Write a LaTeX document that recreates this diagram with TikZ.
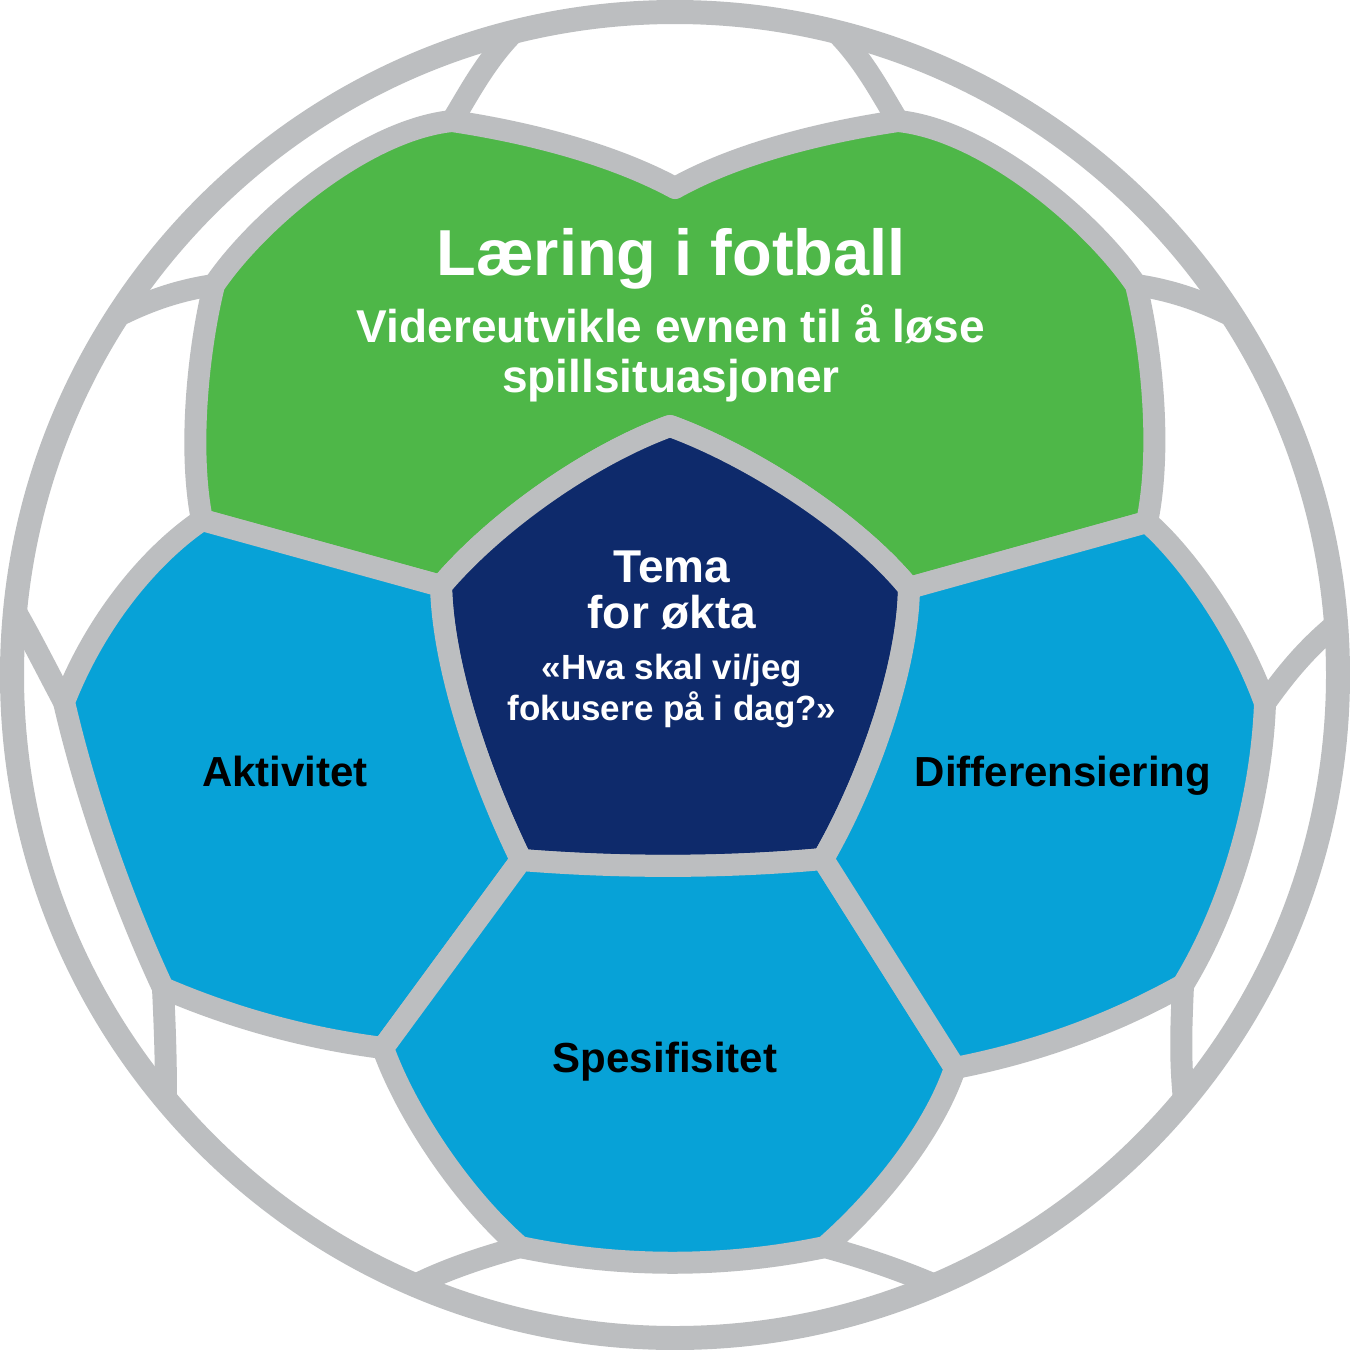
\documentclass[tikz,border=0pt]{standalone}
\usepackage{fontspec}
\setmainfont{Liberation Sans}
\definecolor{seamgray}{RGB}{188,190,192}
\definecolor{ballgreen}{RGB}{78,183,72}
\definecolor{ballblue}{RGB}{7,162,215}
\definecolor{ballnavy}{RGB}{14,42,107}
\tikzset{
  seam/.style={draw=seamgray, line width=22pt, line join=round, line cap=round},
  patch/.style={seam, fill=#1},
  lbl/.style={anchor=base, inner sep=0pt, font=\bfseries\fontsize{#1}{#1}\selectfont},
}
\begin{document}
\begin{tikzpicture}[x=1pt,y=-1pt]
\useasboundingbox (0,0) rectangle (1350,1350);
% junctions
\coordinate (NT) at (670,426);
\coordinate (L) at (441,586);
\coordinate (R) at (909,588);
\coordinate (BL) at (521,860);
\coordinate (BR) at (823,859);
\coordinate (GL) at (202,520);
\coordinate (GR) at (1147,522);
\coordinate (GLT) at (214,285);
\coordinate (GRT) at (1136,285);
\coordinate (TL) at (452,121);
\coordinate (TR) at (898,121);
\coordinate (TC) at (675,188);
\coordinate (AL) at (64,702);
\coordinate (ABL) at (163,988);
\coordinate (ABR) at (383,1048);
\coordinate (SBL) at (520,1247);
\coordinate (SBR) at (825,1247);
\coordinate (DBL) at (955,1068);
\coordinate (DBR) at (1183,985);
\coordinate (DR) at (1265,703);
% ring points
\coordinate (r1) at (512,34);
\coordinate (r2) at (838,34);
\coordinate (r3) at (118,316);
\coordinate (r4) at (1232,316);
\coordinate (r5) at (16,612);
\coordinate (r6) at (1335,625);
\coordinate (r7) at (166,1100);
\coordinate (r8) at (1184,1100);
\coordinate (r9) at (415,1285);
\coordinate (r10) at (935,1285);
% ball background
\fill[white] (675,675) circle[radius=663];
% green patch
\path[patch=ballgreen] (TC) .. controls (734,155) and (817,133) .. (TR)
  .. controls (985,130) and (1092,220) .. (GRT)
  .. controls (1152,350) and (1162,450) .. (GR)
  -- (R) .. controls (855,522) and (750,455) .. (NT)
  .. controls (590,455) and (495,522) .. (L)
  -- (GL) .. controls (188,450) and (198,350) .. (GLT)
  .. controls (258,220) and (365,130) .. (TL)
  .. controls (532,133) and (614,155) .. (TC) -- cycle;
% navy patch
\path[patch=ballnavy] (NT) .. controls (590,455) and (495,522) .. (L)
  .. controls (443,670) and (482,780) .. (BL)
  .. controls (620,868) and (725,868) .. (BR)
  .. controls (866,785) and (908,670) .. (R)
  .. controls (855,522) and (750,455) .. (NT) -- cycle;
% Aktivitet
\path[patch=ballblue] (GL) -- (L) .. controls (443,670) and (482,780) .. (BL)
  -- (ABR) .. controls (306.9,1038.3) and (233.5,1018.3) .. (ABL)
  .. controls (122,900) and (86,797) .. (AL)
  .. controls (100,610) and (160,548) .. (GL) -- cycle;
% Spesifisitet
\path[patch=ballblue] (BL) .. controls (620,868) and (725,868) .. (BR)
  -- (DBL) .. controls (935,1128) and (882,1197) .. (SBR)
  .. controls (725,1268) and (620,1268) .. (SBL)
  .. controls (460,1195) and (405,1110) .. (ABR) -- cycle;
% Differensiering
\path[patch=ballblue] (R) -- (GR) .. controls (1178,548) and (1235,620) .. (DR)
  .. controls (1262,790) and (1235,900) .. (DBR)
  .. controls (1111.4,1025) and (1035.4,1052.5) .. (DBL)
  -- (BR) .. controls (866,785) and (908,670) .. (R) -- cycle;
% white-patch seams
\draw[seam] (TL) .. controls (468,95) and (485,62) .. (r1);
\draw[seam] (TR) .. controls (882,95) and (865,62) .. (r2);
\draw[seam] (GLT) .. controls (180,290) and (150,300) .. (r3);
\draw[seam] (GRT) .. controls (1170,290) and (1200,300) .. (r4);
\draw[seam] (AL) .. controls (48,672) and (32,640) .. (r5);
\draw[seam] (DR) .. controls (1285,675) and (1305,650) .. (r6);
\draw[seam] (ABL) .. controls (165,1030) and (166,1060) .. (r7);
\draw[seam] (DBR) .. controls (1181,1030) and (1180,1060) .. (r8);
\draw[seam] (SBL) .. controls (480,1258) and (445,1270) .. (r9);
\draw[seam] (SBR) .. controls (865,1258) and (900,1270) .. (r10);
% outer ring
\draw[draw=seamgray, line width=24pt] (675,675) circle[radius=663];
% texts
\node[lbl=65, text=white] (title) at (671,275) {Læring i fotball};
\node[lbl=46, text=white] (sub1) at (671,342) {Videreutvikle evnen til å løse};
\node[lbl=46, text=white] (sub2) at (671,392) {spillsituasjoner};
\node[lbl=46, text=white] (tema) at (672,582) {Tema};
\node[lbl=46, text=white] (okta) at (672,628) {for økta};
\node[lbl=35, text=white] (q1) at (672,679) {«Hva skal vi/jeg};
\node[lbl=35, text=white] (q2) at (672,720) {fokusere på i dag?»};
\node[lbl=42] (akt) at (285,786) {Aktivitet};
\node[lbl=42] (diff) at (1063,786) {Differensiering};
\node[lbl=42] (spes) at (665,1072) {Spesifisitet};
\end{tikzpicture}
\end{document}
